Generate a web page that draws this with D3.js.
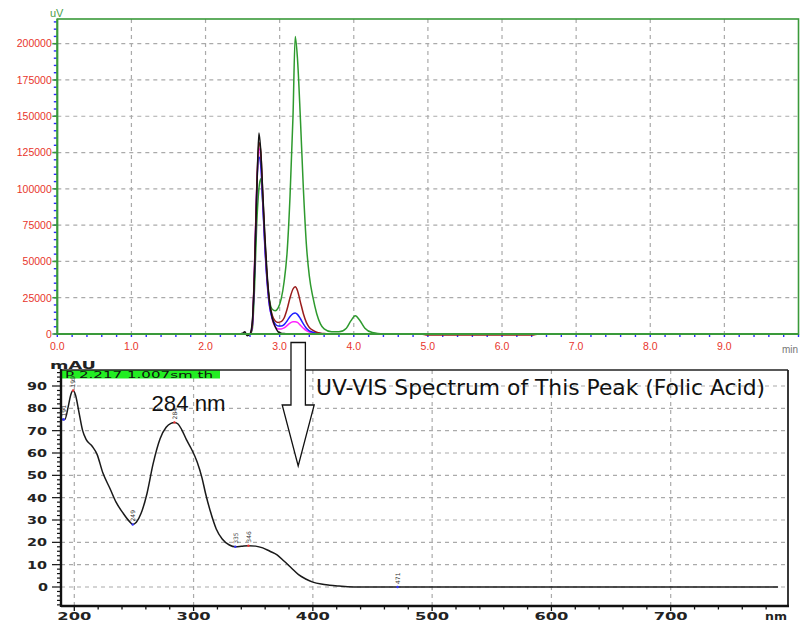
<!DOCTYPE html>
<html><head><meta charset="utf-8">
<script src="https://cdn.jsdelivr.net/npm/d3@7"></script>
<style>body{margin:0;background:#fff} svg{display:block}</style>
</head><body>
<svg id="c" width="801" height="627"></svg>
<script>
// ---------- Chromatogram data (time in min, signal in uV) ----------
const chromTime = [0, 2.45, 2.50, 2.53, 2.56, 2.60, 2.63, 2.66, 2.69, 2.72, 2.745, 2.77, 2.80, 2.83, 2.86, 2.90, 2.94, 2.98, 3.02, 3.06, 3.10, 3.14, 3.18, 3.21, 3.24, 3.28, 3.32, 3.36, 3.40, 3.45, 3.50, 3.55, 3.60, 3.70, 3.80, 3.90, 3.96, 4.02, 4.08, 4.15, 4.25, 4.40, 4.90, 5.00, 6.40, 6.50, 10.0];
const seriesGreen   = [0, 0, 0, 0, 0, 0, 3000, 30000, 75000, 100000, 107000, 92000, 63000, 38000, 24000, 17000, 16000, 18000, 24000, 36000, 56000, 95000, 150000, 205000, 190000, 148000, 100000, 62000, 40000, 25000, 14000, 7000, 3500, 1500, 1500, 4000, 9000, 12500, 9500, 4000, 1000, 0, 0, 0, 0, 0, 0];
const seriesMagenta = [0, 0, 0, 0, 0, 0, 5000, 45000, 100000, 128000, 120000, 95000, 62000, 38000, 21000, 10000, 5000, 3500, 3500, 4200, 5800, 7500, 8400, 8500, 8000, 6000, 4000, 2300, 1300, 700, 300, 100, 0, 0, 0, 0, 0, 0, 0, 0, 0, 0, 0, 0, 0, 0, 0];
const seriesBlue    = [0, 0, 0, 0, 0, 0, 5000, 42000, 98000, 122000, 116000, 92000, 60000, 36000, 20000, 11000, 7000, 5500, 5500, 6500, 9000, 12000, 14000, 14500, 13500, 10500, 7000, 4000, 2200, 1200, 600, 300, 100, 0, 0, 0, 0, 0, 0, 0, 0, 0, 0, 0, 0, 0, 0];
const seriesRed     = [0, 0, 0, 0, 0, 0, 6000, 45000, 100000, 132000, 126000, 98000, 66000, 40000, 23000, 13000, 9000, 8000, 8500, 11000, 17000, 25000, 31000, 32500, 30000, 22000, 14000, 8000, 4500, 2500, 1200, 600, 300, 100, 0, 0, 0, 0, 0, 0, 0, 0, 0, -700, -700, 0, 0];
const seriesBlack   = [0, 0, 500, 1500, -1200, 0, 8000, 40000, 95000, 138500, 126000, 100000, 68000, 42000, 24000, 11000, 5000, 1500, 600, 300, 200, 0, 0, 0, 0, 0, 0, 0, 0, 0, 0, 0, 0, 0, 0, 0, 0, 0, 0, 0, 0, 0, 0, 0, 0, 0, 0];
const topYTicks = [0, 25000, 50000, 75000, 100000, 125000, 150000, 175000, 200000];
const topXTicks = [0, 1, 2, 3, 4, 5, 6, 7, 8, 9];

// ---------- UV-VIS spectrum data (nm, mAU) ----------
const specNm  = [189, 192, 195, 197, 199, 201, 204, 207, 210, 215, 219, 224, 230, 235, 241, 246, 249, 252, 256, 261, 266, 272, 277, 281, 284, 287, 290, 294, 298, 303, 307, 310, 314, 319, 324, 330, 335, 340, 346, 352, 358, 364, 370, 376, 382, 388, 394, 400, 407, 414, 422, 429, 440, 600, 790];
const specAbs = [75, 75, 81, 86, 88, 86, 78, 70, 66, 63, 59.5, 51, 44, 38, 33, 29.5, 28, 29, 33, 42, 55, 66.5, 71.5, 73.3, 73.7, 73, 70.5, 66, 62, 56, 49, 42, 34, 26, 21.5, 18.8, 18, 18.2, 18.5, 18.3, 17.5, 16, 14.4, 11.5, 8.5, 5.5, 3.6, 2.2, 1.3, 0.8, 0.4, 0.1, 0, 0, 0];
const peakNm   = [191, 199, 249, 284, 335, 346, 471];
const peakAbs  = [75, 88, 28, 73.7, 18, 18.5, 0];
const peakKind = ["v", "p", "v", "p", "v", "p", "v"];
const botYTicks = [0, 10, 20, 30, 40, 50, 60, 70, 80, 90];
const botXTicks = [200, 300, 400, 500, 600, 700];

const svg = d3.select("#c");

// ================= TOP CHROMATOGRAM =================
const xT = d3.scaleLinear().domain([0, 10]).range([57.3, 798.5]);
const yT = d3.scaleLinear().domain([0, 217000]).range([334, 19]);
const gT = svg.append("g");
const axisGreen = "#3a9a3a";

// grid
gT.selectAll(".hg").data(topYTicks.filter(d => d > 0)).join("line")
  .attr("x1", xT(0)).attr("x2", xT(10)).attr("y1", d => yT(d)).attr("y2", d => yT(d))
  .attr("stroke", "#aaaaaa").attr("stroke-width", 1.2).attr("stroke-dasharray", "4,4");
gT.selectAll(".vg").data(topXTicks.filter(d => d > 0)).join("line")
  .attr("x1", d => xT(d)).attr("x2", d => xT(d)).attr("y1", yT(217000)).attr("y2", yT(0))
  .attr("stroke", "#aaaaaa").attr("stroke-width", 1.2).attr("stroke-dasharray", "4,4");

// minor ticks (blue)
gT.selectAll(".ym").data(d3.range(0, 217000, 5000)).join("line")
  .attr("x1", xT(0) - 3.5).attr("x2", xT(0)).attr("y1", d => yT(d)).attr("y2", d => yT(d))
  .attr("stroke", "#2a2aff").attr("stroke-width", 1.4);
gT.selectAll(".xm").data(d3.range(0, 10.01, 0.2)).join("line")
  .attr("x1", d => xT(d)).attr("x2", d => xT(d)).attr("y1", yT(0)).attr("y2", yT(0) + 3)
  .attr("stroke", "#2a2aff").attr("stroke-width", 1.4);
// major y ticks
gT.selectAll(".yM").data(topYTicks).join("line")
  .attr("x1", xT(0) - 5).attr("x2", xT(0)).attr("y1", d => yT(d)).attr("y2", d => yT(d))
  .attr("stroke", axisGreen).attr("stroke-width", 1.5);

// lines
const lineT = d3.line().x(d => xT(d[0])).y(d => yT(d[1])).curve(d3.curveMonotoneX);
const series = [
  {vals: seriesGreen, color: "#2e9a2e"},
  {vals: seriesMagenta, color: "#ff22ff"},
  {vals: seriesBlue, color: "#1f1fff"},
  {vals: seriesRed, color: "#9a1c1c"},
  {vals: seriesBlack, color: "#141414"}
];
gT.selectAll(".s").data(series).join("path")
  .attr("d", s => lineT(chromTime.map((t, i) => [t, s.vals[i]])))
  .attr("fill", "none").attr("stroke", s => s.color).attr("stroke-width", 1.5);

// frame
gT.append("rect").attr("x", xT(0)).attr("y", yT(217000)).attr("width", xT(10) - xT(0)).attr("height", yT(0) - yT(217000))
  .attr("fill", "none").attr("stroke", axisGreen).attr("stroke-width", 1.6);
gT.append("line").attr("x1", xT(0)).attr("x2", xT(0)).attr("y1", yT(217000)).attr("y2", yT(0) + 1)
  .attr("stroke", axisGreen).attr("stroke-width", 2);
gT.append("line").attr("x1", xT(0)).attr("x2", xT(10)).attr("y1", yT(0)).attr("y2", yT(0))
  .attr("stroke", axisGreen).attr("stroke-width", 2);

// labels
gT.selectAll(".yl").data(topYTicks).join("text")
  .attr("x", xT(0) - 5.5).attr("y", d => yT(d) + 3.8).attr("text-anchor", "end")
  .attr("font-family", "Liberation Sans, Arial, sans-serif").attr("font-size", 10.5)
  .attr("fill", "#e8352c").text(d => d);
gT.selectAll(".xl").data(topXTicks).join("text")
  .attr("x", d => xT(d)).attr("y", 349.5).attr("text-anchor", "middle")
  .attr("font-family", "Liberation Sans, Arial, sans-serif").attr("font-size", 10.5)
  .attr("fill", "#e8352c").text(d => d.toFixed(1));
gT.append("text").attr("x", 50).attr("y", 17).attr("font-family", "Liberation Sans, Arial, sans-serif")
  .attr("font-size", 11).attr("fill", "#4aa04a").text("uV");
gT.append("text").attr("x", 782).attr("y", 353).attr("font-family", "Liberation Sans, Arial, sans-serif")
  .attr("font-size", 10).attr("fill", "#777").text("min");

// ================= BOTTOM SPECTRUM =================
const xB = d3.scaleLinear().domain([200, 700]).range([74.3, 670.7]);
const yB = d3.scaleLinear().domain([0, 90]).range([587, 386]);
const bx0 = 61, bx1 = 788, by0 = 606, by1 = 370;
const gB = svg.append("g");

gB.selectAll(".hg").data(botYTicks).join("line")
  .attr("x1", bx0).attr("x2", bx1).attr("y1", d => yB(d)).attr("y2", d => yB(d))
  .attr("stroke", "#aaaaaa").attr("stroke-width", 1.2).attr("stroke-dasharray", "4,4");
gB.selectAll(".vg").data(botXTicks).join("line")
  .attr("x1", d => xB(d)).attr("x2", d => xB(d)).attr("y1", by1).attr("y2", by0)
  .attr("stroke", "#aaaaaa").attr("stroke-width", 1.2).attr("stroke-dasharray", "4,4");

// arrow annotation (from the chromatogram peak to the spectrum)
const ac = xT(3.25);
const arrow = [[ac - 7.2, 342.5], [ac - 7.2, 405], [ac - 16, 405], [ac, 466], [ac + 16, 405], [ac + 7.2, 405], [ac + 7.2, 342.5]];
svg.append("path").attr("d", d3.line()(arrow) + "Z").attr("fill", "#fff")
  .attr("stroke", "#111").attr("stroke-width", 1.3);

// spectrum curve
const lineB = d3.line().x(d => xB(d[0])).y(d => yB(d[1])).curve(d3.curveMonotoneX);
gB.append("path").attr("d", lineB(specNm.map((n, i) => [n, specAbs[i]])))
  .attr("fill", "none").attr("stroke", "#1a1a1a").attr("stroke-width", 1.5);
gB.append("path").attr("d", lineB([[189, 75], [192, 75]]))
  .attr("fill", "none").attr("stroke", "#2a2aff").attr("stroke-width", 1.5);

// green info bar
gB.append("rect").attr("x", 61).attr("y", 370).attr("width", 159).attr("height", 8.5).attr("fill", "#22ee22");
gB.append("text").attr("x", 65).attr("y", 377.6)
  .attr("font-family", "DejaVu Sans, sans-serif").attr("font-size", 9).attr("fill", "#111")
  .attr("textLength", 148).attr("lengthAdjust", "spacingAndGlyphs")
  .text("P 2.217  1.007sm th");
gB.append("line").attr("x1", bx0).attr("x2", bx1).attr("y1", by1).attr("y2", by1).attr("stroke", "#222").attr("stroke-width", 1.3);

// peak markers
peakNm.forEach((n, i) => {
  const px = xB(n), py = yB(peakAbs[i]);
  gB.append("circle").attr("cx", px).attr("cy", py).attr("r", 1.2)
    .attr("fill", peakKind[i] === "p" ? "#e33" : "#33f");
  gB.append("text").attr("transform", `translate(${px + 2.3},${py - 3}) rotate(-90)`)
    .attr("font-family", "DejaVu Sans, sans-serif").attr("font-size", 6).attr("fill", "#333")
    .text(n);
});

// ticks
gB.selectAll(".ym").data(d3.range(-8, 97, 2)).join("line")
  .attr("x1", d => d % 10 === 0 ? bx0 - 9 : bx0 - 4).attr("x2", bx0).attr("y1", d => yB(d)).attr("y2", d => yB(d))
  .attr("stroke", "#111").attr("stroke-width", 1.2);
gB.selectAll(".xm").data(d3.range(200, 800, 20)).join("line")
  .attr("x1", d => xB(d)).attr("x2", d => xB(d)).attr("y1", by0).attr("y2", d => d % 100 === 0 ? by0 + 5 : by0 + 3.5)
  .attr("stroke", "#111").attr("stroke-width", 1.3);

// frame
gB.append("line").attr("x1", bx1).attr("x2", bx1).attr("y1", by1).attr("y2", by0).attr("stroke", "#222").attr("stroke-width", 1.8);
gB.append("line").attr("x1", bx0).attr("x2", bx0).attr("y1", by1 - 1).attr("y2", by0 + 1).attr("stroke", "#111").attr("stroke-width", 2.4);
gB.append("line").attr("x1", bx0).attr("x2", bx1 + 1).attr("y1", by0).attr("y2", by0).attr("stroke", "#111").attr("stroke-width", 2.4);

// tick labels (wide font)
const wideFont = "DejaVu Sans, sans-serif";
gB.selectAll(".yl").data(botYTicks).join("text")
  .attr("x", d => d < 10 ? 38 : 27).attr("y", d => yB(d) + 4)
  .attr("font-family", wideFont).attr("font-weight", "bold").attr("font-size", 10)
  .attr("textLength", d => d < 10 ? 10 : 20).attr("lengthAdjust", "spacingAndGlyphs")
  .attr("fill", "#222").text(d => d);
gB.selectAll(".xl").data(botXTicks).join("text")
  .attr("x", d => xB(d) - 17).attr("y", 619.5)
  .attr("font-family", wideFont).attr("font-weight", "bold").attr("font-size", 10)
  .attr("textLength", 34).attr("lengthAdjust", "spacingAndGlyphs")
  .attr("fill", "#222").text(d => d);
gB.append("text").attr("x", 765).attr("y", 619.5).attr("font-family", wideFont).attr("font-weight", "bold")
  .attr("font-size", 10).attr("textLength", 22).attr("lengthAdjust", "spacingAndGlyphs").attr("fill", "#222").text("nm");
gB.append("text").attr("x", 50).attr("y", 368.5).attr("font-family", wideFont).attr("font-weight", "bold")
  .attr("font-size", 10).attr("textLength", 46).attr("lengthAdjust", "spacingAndGlyphs").attr("fill", "#222").text("mAU");

// annotations
gB.append("text").attr("x", 151.5).attr("y", 410.5).attr("font-family", "Liberation Sans, Arial, sans-serif")
  .attr("font-size", 21.5).attr("textLength", 74).attr("lengthAdjust", "spacingAndGlyphs").attr("fill", "#111").text("284 nm");
gB.append("text").attr("x", 316).attr("y", 395).attr("font-family", "DejaVu Sans, sans-serif")
  .attr("font-size", 21).attr("textLength", 449).attr("lengthAdjust", "spacingAndGlyphs").attr("fill", "#111")
  .text("UV-VIS Spectrum of This Peak (Folic Acid)");
</script>
</body></html>
